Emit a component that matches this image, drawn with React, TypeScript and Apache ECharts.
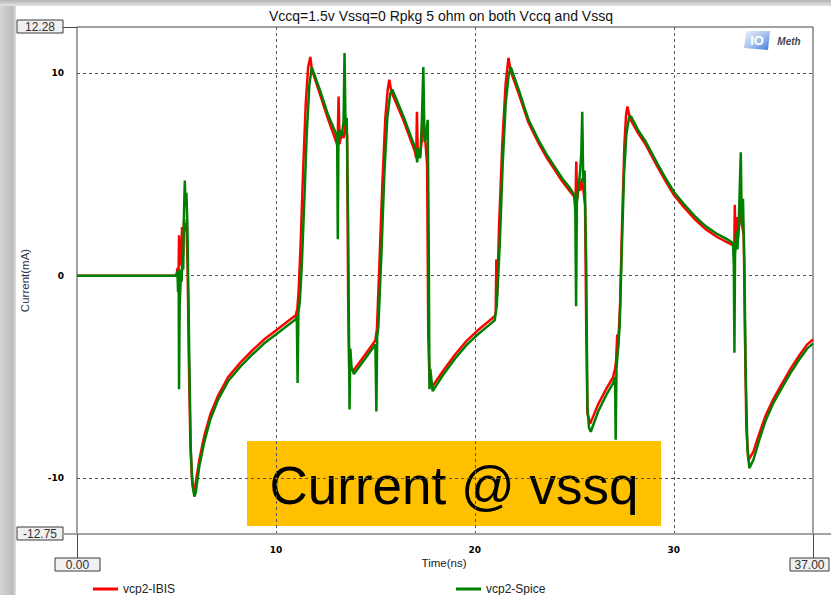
import { useEffect, useRef } from "react";
import * as echarts from "echarts";

// ---- chart content ----
const chartTitle = "Vccq=1.5v Vssq=0 Rpkg 5 ohm on both Vccq and Vssq";
const xAxisTitle = "Time(ns)";
const yAxisTitle = "Current(mA)";
const seriesNames = ["vcp2-IBIS", "vcp2-Spice"];
const seriesColors = ["#ff0000", "#008000"];
const timeRange = [0, 37];
const currentRange = [-12.75, 12.28];
const xTicks = [10, 20, 30];
const yTicks = [-10, 0, 10];
const calloutText = "Current @ vssq";

// [time (ns), current (mA)]
const ibisPoints: [number, number][] = [
  [0, 0], [5.0, 0], [5.06, 0.4], [5.1, -0.3], [5.13, 2.0], [5.16, 0.5], [5.2, 1.8], [5.24, 0.6],
  [5.28, 2.4], [5.33, 1.0], [5.38, 2.8], [5.44, 2.2], [5.5, 2.6], [5.56, 0.5], [5.62, -4.0],
  [5.7, -8.3], [5.78, -10.0], [5.86, -10.6], [5.94, -10.4], [6.15, -9.1], [6.4, -7.9], [6.7, -6.85],
  [7.1, -5.9], [7.6, -5.0], [8.2, -4.3], [8.8, -3.7], [9.4, -3.15], [10.0, -2.7], [10.6, -2.25],
  [11.0, -1.95], [11.08, -1.6], [11.14, -0.8], [11.24, 1.5], [11.36, 5.0], [11.5, 8.5], [11.62, 10.3],
  [11.73, 10.8], [11.8, 10.2], [12.2, 9.0], [12.6, 7.8], [13.0, 6.7], [13.1, 6.4], [13.15, 8.85],
  [13.2, 6.5], [13.3, 7.0], [13.4, 6.8], [13.5, 7.5], [13.58, 6.9], [13.63, -1.0], [13.68, -4.5],
  [13.8, -4.6], [13.88, -4.7], [14.3, -4.15], [14.7, -3.6], [15.0, -3.2], [15.08, -2.6], [15.2, 0.5],
  [15.35, 4.5], [15.5, 7.8], [15.62, 9.2], [15.7, 9.68], [15.8, 9.1], [16.4, 7.7], [17.0, 6.1],
  [17.05, 5.8], [17.09, 8.1], [17.13, 6.0], [17.25, 6.0], [17.35, 6.8], [17.42, 7.5], [17.5, 6.8],
  [17.6, 5.5], [17.66, -3.0], [17.72, -5.1], [17.84, -5.5], [18.4, -4.7], [19.0, -3.9], [19.6, -3.2],
  [20.2, -2.65], [20.7, -2.25], [21.0, -2.0], [21.05, -1.8], [21.08, 0.8], [21.12, -1.0], [21.22, 2.5],
  [21.38, 6.5], [21.55, 9.5], [21.69, 10.75], [21.8, 10.1], [22.2, 9.0], [22.7, 7.55], [23.2, 6.55],
  [23.6, 5.85], [24.0, 5.25], [24.4, 4.65], [24.8, 4.15], [25.0, 3.9], [25.06, 3.6], [25.1, 5.64],
  [25.14, 3.8], [25.22, 4.4], [25.3, 4.2], [25.38, 4.8], [25.46, 4.2], [25.54, 3.5], [25.6, -2.5],
  [25.66, -6.8], [25.8, -7.3], [26.2, -6.35], [26.6, -5.6], [26.95, -5.0], [27.05, -4.6], [27.1, -4.2],
  [27.16, -2.9], [27.2, -3.5], [27.3, -1.5], [27.4, 2.5], [27.52, 6.5], [27.6, 7.9], [27.67, 8.36],
  [27.8, 7.75], [28.2, 7.05], [28.6, 6.45], [29.2, 5.35], [29.6, 4.65], [30.0, 4.0], [30.5, 3.4],
  [31.1, 2.75], [31.6, 2.3], [32.2, 1.9], [32.7, 1.65], [33.0, 1.5], [33.04, 1.2], [33.07, 3.5],
  [33.1, 1.4], [33.16, 2.9], [33.22, 1.8], [33.3, 2.6], [33.38, 3.6], [33.45, 2.4], [33.52, 2.0],
  [33.58, -3.0], [33.65, -7.5], [33.75, -9.1], [34.0, -8.7], [34.3, -7.8], [34.6, -6.95], [35.0, -6.1],
  [35.4, -5.4], [35.9, -4.55], [36.3, -3.95], [36.7, -3.4], [37.0, -3.15],
];

const spicePoints: [number, number][] = [
  [0, 0], [4.98, 0], [5.05, 0.2], [5.08, -0.8], [5.11, 0.3], [5.13, -5.6], [5.16, -1.5], [5.2, -0.5],
  [5.23, 0.3], [5.26, -0.3], [5.3, 1.2], [5.34, 0.3], [5.38, 3.2], [5.42, 4.7], [5.46, 3.4], [5.5, 4.1],
  [5.55, 2.5], [5.6, -1.0], [5.66, -5.0], [5.72, -8.6], [5.8, -10.3], [5.9, -10.9], [5.97, -10.7],
  [6.15, -9.4], [6.4, -8.2], [6.7, -7.1], [7.1, -6.1], [7.6, -5.2], [8.2, -4.5], [8.8, -3.9],
  [9.4, -3.35], [10.0, -2.9], [10.6, -2.45], [11.0, -2.15], [11.05, -2.0], [11.09, -5.3], [11.13, -1.8],
  [11.2, -1.3], [11.3, 0.5], [11.42, 3.5], [11.55, 7.0], [11.68, 9.4], [11.8, 10.3], [12.2, 9.2],
  [12.6, 8.0], [13.03, 7.0], [13.08, 6.6], [13.11, 1.8], [13.14, 6.4], [13.2, 7.2], [13.3, 6.9],
  [13.4, 7.6], [13.45, 11.0], [13.5, 7.4], [13.56, 7.8], [13.63, 2.5], [13.7, -6.6], [13.74, -3.6],
  [13.8, -4.5], [13.92, -4.85], [14.3, -4.35], [14.7, -3.8], [15.0, -3.4], [15.05, -6.7], [15.09, -3.0],
  [15.15, -2.5], [15.3, 1.0], [15.45, 5.0], [15.6, 7.8], [15.75, 9.0], [15.85, 9.2], [16.4, 7.9],
  [17.04, 6.2], [17.1, 5.6], [17.18, 6.3], [17.26, 5.8], [17.34, 7.8], [17.41, 10.3], [17.47, 6.6],
  [17.56, 7.0], [17.63, 7.7], [17.68, 2.0], [17.72, -5.6], [17.76, -4.6], [17.88, -5.7], [18.4, -4.9],
  [19.0, -4.1], [19.6, -3.4], [20.2, -2.85], [20.7, -2.45], [21.0, -2.2], [21.1, -1.5], [21.25, 1.5],
  [21.4, 5.5], [21.55, 8.5], [21.7, 9.9], [21.81, 10.3], [22.2, 9.2], [22.7, 7.7], [23.2, 6.7],
  [23.6, 6.0], [24.0, 5.4], [24.4, 4.8], [24.8, 4.3], [24.99, 4.0], [25.05, 3.2], [25.09, -1.5],
  [25.13, 3.6], [25.2, 4.3], [25.28, 5.0], [25.35, 6.0], [25.4, 8.1], [25.45, 4.6], [25.52, 5.2],
  [25.6, 0.5], [25.66, -6.5], [25.74, -7.5], [25.83, -7.7], [26.2, -6.7], [26.6, -5.9], [26.95, -5.3],
  [27.05, -5.0], [27.08, -8.1], [27.12, -4.6], [27.2, -3.6], [27.28, -2.5], [27.38, 1.0], [27.5, 5.0],
  [27.62, 7.0], [27.75, 7.8], [27.85, 7.87], [28.2, 7.2], [28.6, 6.6], [29.2, 5.5], [29.6, 4.8],
  [30.0, 4.15], [30.5, 3.55], [31.1, 2.9], [31.6, 2.45], [32.2, 2.05], [32.7, 1.8], [32.98, 1.6],
  [33.02, 0.5], [33.05, -3.8], [33.08, 1.0], [33.14, 2.2], [33.2, 1.3], [33.28, 3.0], [33.37, 6.1],
  [33.42, 2.5], [33.48, 3.8], [33.55, 0.5], [33.62, -5.0], [33.7, -8.5], [33.8, -9.5], [34.0, -9.1],
  [34.3, -8.1], [34.6, -7.2], [35.0, -6.3], [35.4, -5.6], [35.9, -4.75], [36.3, -4.15], [36.7, -3.6],
  [37.0, -3.35],
];

// ---- layout (pixels) ----
const W = 831;
const H = 595;
const PLOT = { left: 77, top: 27, right: 813, bottom: 534 };

const uiFont = "Arial, 'Liberation Sans', sans-serif";
const tickFont = "'DejaVu Sans', Verdana, sans-serif";

function cursorBox(x: number, y: number, w: number, label: string) {
  return {
    type: "group",
    z: 120,
    children: [
      {
        type: "rect",
        shape: { x, y, width: w, height: 13 },
        style: { fill: "#f0f0f0", stroke: "#3a3a3a", lineWidth: 1 },
      },
      {
        type: "text",
        style: {
          x: x + w / 2,
          y: y + 7,
          text: label,
          align: "center",
          verticalAlign: "middle",
          font: `12px ${uiFont}`,
          fill: "#333",
        },
      },
    ],
  };
}

export default function App() {
  const ref = useRef<HTMLDivElement>(null);

  useEffect(() => {
    if (!ref.current) return;
    const chart = echarts.init(ref.current, undefined, { renderer: "svg" });

    const plotW = PLOT.right - PLOT.left;
    const plotH = PLOT.bottom - PLOT.top;

    const legendBase = {
      top: 578,
      itemWidth: 25,
      itemHeight: 12,
      icon: "rect",
      textStyle: { fontFamily: uiFont, fontSize: 12, color: "#222" },
    };

    chart.setOption({
      animation: false,
      backgroundColor: "transparent",
      grid: {
        left: PLOT.left,
        top: PLOT.top,
        width: plotW,
        height: plotH,
        show: true,
        borderColor: "#444",
        borderWidth: 1,
        backgroundColor: "transparent",
      },
      legend: [
        {
          ...legendBase,
          left: 88,
          data: [{ name: seriesNames[0], itemStyle: { color: seriesColors[0] } }],
          itemHeight: 3,
        },
        {
          ...legendBase,
          left: 451,
          data: [{ name: seriesNames[1], itemStyle: { color: seriesColors[1] } }],
          itemHeight: 3,
        },
      ],
      xAxis: {
        type: "value",
        min: timeRange[0],
        max: timeRange[1],
        axisLine: { show: false },
        axisTick: { show: false, customValues: xTicks },
        axisLabel: {
          customValues: xTicks,
          margin: 11,
          fontFamily: tickFont,
          fontWeight: "bold",
          fontSize: 9,
          color: "#000",
        },
        splitLine: { show: true, lineStyle: { color: "#555", width: 1, type: [3, 3] } },
      },
      yAxis: {
        type: "value",
        min: currentRange[0],
        max: currentRange[1],
        axisLine: { show: false },
        axisTick: { show: false, customValues: yTicks },
        axisLabel: {
          customValues: yTicks,
          margin: 13,
          fontFamily: tickFont,
          fontWeight: "bold",
          fontSize: 9,
          color: "#000",
        },
        splitLine: { show: true, lineStyle: { color: "#555", width: 1, type: [3, 3] } },
      },
      series: [
        {
          name: seriesNames[0],
          type: "line",
          data: ibisPoints,
          symbol: "none",
          color: seriesColors[0],
          lineStyle: { width: 2.5, color: seriesColors[0] },
          z: 3,
        },
        {
          name: seriesNames[1],
          type: "line",
          data: spicePoints,
          symbol: "none",
          color: seriesColors[1],
          lineStyle: { width: 2.5, color: seriesColors[1] },
          z: 4,
        },
      ],
      graphic: [
        // title
        {
          type: "text",
          z: 120,
          style: {
            x: 441,
            y: 16,
            text: chartTitle,
            align: "center",
            verticalAlign: "middle",
            font: `14px ${uiFont}`,
            fill: "#111",
          },
        },
        // axis names
        {
          type: "text",
          z: 120,
          x: 25,
          y: (PLOT.top + PLOT.bottom) / 2,
          rotation: Math.PI / 2,
          style: {
            x: 0,
            y: 0,
            text: yAxisTitle,
            align: "center",
            verticalAlign: "middle",
            font: `11.5px ${uiFont}`,
            fill: "#2e3650",
          },
        },
        {
          type: "text",
          z: 120,
          style: {
            x: 444,
            y: 563,
            text: xAxisTitle,
            align: "center",
            verticalAlign: "middle",
            font: `11.5px ${uiFont}`,
            fill: "#222",
          },
        },
        // cursor lines
        {
          type: "line",
          z: 110,
          shape: { x1: 63, y1: PLOT.bottom, x2: W, y2: PLOT.bottom },
          style: { stroke: "#a3a3a3", lineWidth: 2 },
        },
        {
          type: "line",
          z: 110,
          shape: { x1: 63, y1: PLOT.top + 0.5, x2: PLOT.left, y2: PLOT.top + 0.5 },
          style: { stroke: "#444", lineWidth: 1 },
        },
        {
          type: "line",
          z: 110,
          shape: { x1: PLOT.left + 0.5, y1: PLOT.bottom, x2: PLOT.left + 0.5, y2: 558 },
          style: { stroke: "#444", lineWidth: 1 },
        },
        {
          type: "line",
          z: 110,
          shape: { x1: PLOT.right + 0.5, y1: PLOT.bottom, x2: PLOT.right + 0.5, y2: 558 },
          style: { stroke: "#444", lineWidth: 1 },
        },
        cursorBox(17, 20, 46, currentRange[1].toFixed(2)),
        cursorBox(17, 527, 46, currentRange[0].toFixed(2)),
        cursorBox(55, 558, 45, timeRange[0].toFixed(2)),
        cursorBox(790, 558, 39, timeRange[1].toFixed(2)),
        // logo
        {
          type: "group",
          z: 120,
          children: [
            {
              type: "polygon",
              shape: { points: [[746, 31], [770, 31], [768, 50], [744, 48]] },
              style: {
                fill: new echarts.graphic.LinearGradient(0, 0, 1, 1, [
                  { offset: 0, color: "#eef1fb" },
                  { offset: 0.5, color: "#a9c2ee" },
                  { offset: 1, color: "#3b7be0" },
                ]),
              },
            },
            {
              type: "text",
              style: {
                x: 757,
                y: 40,
                text: "IO",
                align: "center",
                verticalAlign: "middle",
                font: `bold 13px ${uiFont}`,
                fill: "#ffffff",
              },
            },
            {
              type: "text",
              style: {
                x: 789,
                y: 41,
                text: "Meth",
                align: "center",
                verticalAlign: "middle",
                font: `italic bold 10px ${uiFont}`,
                fill: "#444a5a",
              },
            },
          ],
        },
        // callout
        {
          type: "group",
          z: 130,
          children: [
            {
              type: "rect",
              shape: { x: 247, y: 441, width: 414, height: 85 },
              style: { fill: "#ffc000" },
            },
            {
              type: "text",
              style: {
                x: 454,
                y: 485,
                text: calloutText,
                align: "center",
                verticalAlign: "middle",
                font: `53px ${uiFont}`,
                fill: "#000",
              },
            },
          ],
        },
      ],
    });

    return () => chart.dispose();
  }, []);

  return (
    <div
      style={{
        position: "absolute",
        left: 0,
        top: 0,
        width: W,
        height: H,
        background:
          "linear-gradient(to bottom, #b4b4b4 0px, #e4e4e4 6px, rgba(255,255,255,0) 6px), linear-gradient(to right, #d4d4d4 0px, #bdbdbd 13px, #e2e2e2 16px, #ffffff 16px)",
      }}
    >
      <div ref={ref} style={{ width: W, height: H }} />
    </div>
  );
}
